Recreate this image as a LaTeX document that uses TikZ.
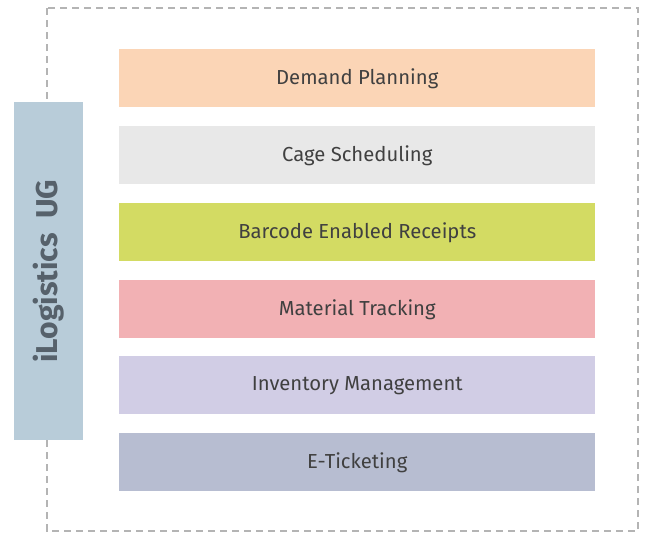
\documentclass[tikz,border=0pt]{standalone}
\usepackage{fontspec}
\setmainfont{Fira Sans}
\begin{document}
\begin{tikzpicture}[x=0.75pt,y=-0.75pt,
  item/.style={minimum width=476*0.75pt,minimum height=58*0.75pt,inner sep=0pt,anchor=north west,text=txt,font=\fontsize{15.2}{17}\selectfont},
  frame/.style={draw=dashgray,line width=1.6pt,dash pattern=on 5.5pt off 3.5pt}]
\definecolor{dashgray}{HTML}{B4B4B4}
\definecolor{txt}{HTML}{404040}
\definecolor{c1}{HTML}{FBD5B6}
\definecolor{c2}{HTML}{E8E8E8}
\definecolor{c3}{HTML}{D3DB63}
\definecolor{c4}{HTML}{F2B1B4}
\definecolor{c5}{HTML}{D1CDE5}
\definecolor{c6}{HTML}{B7BDD1}
\definecolor{side}{HTML}{B8CCD9}
\definecolor{sidetxt}{HTML}{56616B}
\useasboundingbox (0,0) rectangle (646,533);
\draw[frame] (47,8) rectangle (638,531);
\node[item,fill=c1] (dp) at (119,49) {Demand Planning};
\node[item,fill=c2] (cs) at (119,126) {Cage Scheduling};
\node[item,fill=c3] (ber) at (119,203) {Barcode Enabled Receipts};
\node[item,fill=c4] (mt) at (119,280) {Material Tracking};
\node[item,fill=c5] (im) at (119,356) {Inventory Management};
\node[item,fill=c6] (et) at (119,433) {E-Ticketing};
\node[fill=side,minimum width=69*0.75pt,minimum height=338*0.75pt,inner sep=0pt,anchor=north west] (side) at (14,102) {};
\node[rotate=90,text=sidetxt,font=\fontsize{22.6}{25}\selectfont\bfseries] (lbl) at (side.center) {iLogistics\ \ UG};
\end{tikzpicture}
\end{document}
